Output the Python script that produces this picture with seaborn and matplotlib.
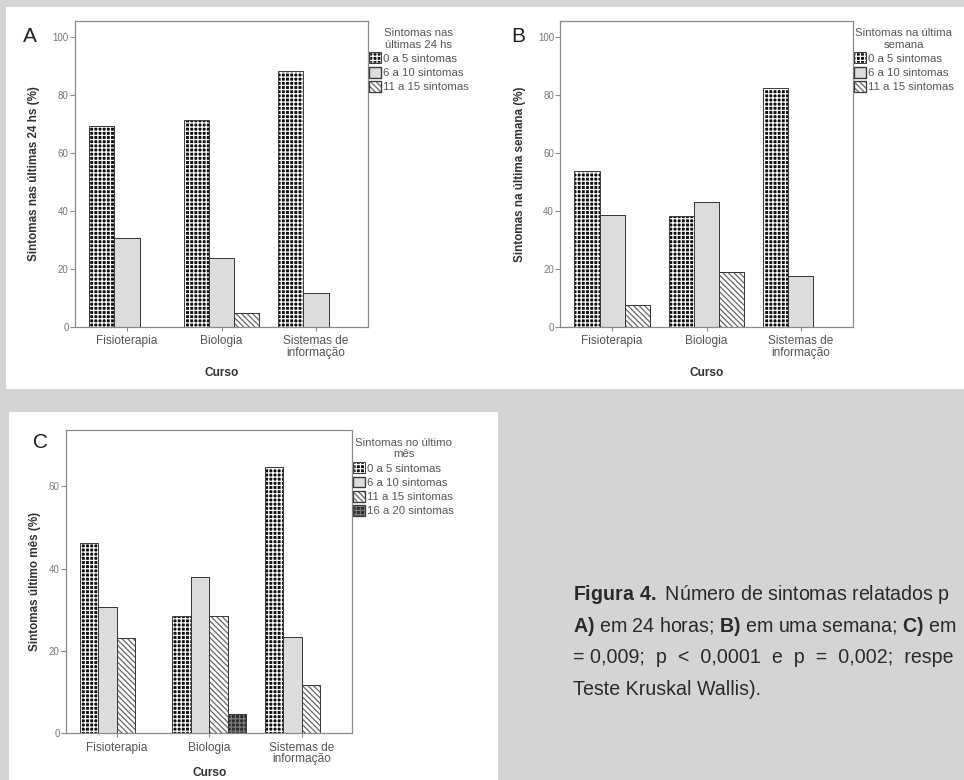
import pandas as pd
import matplotlib
matplotlib.use("Agg")
import matplotlib.pyplot as plt
import seaborn as sns
from matplotlib.patches import Rectangle, Patch

# Stile generale
sns.set_theme(style="white")
plt.rcParams['font.family'] = ['Liberation Sans', 'DejaVu Sans']
plt.rcParams['hatch.linewidth'] = 0.9
plt.rcParams['mathtext.fontset'] = 'custom'
plt.rcParams['mathtext.rm'] = 'Liberation Sans'
plt.rcParams['mathtext.bf'] = 'Liberation Sans:bold'

# Dati (percentuali)
cursos = ['Fisioterapia', 'Biologia', 'Sistemas de\ninformação']
grupos = ['0 a 5 sintomas', '6 a 10 sintomas', '11 a 15 sintomas', '16 a 20 sintomas']

a_0a5 = [69.2, 71.4, 88.2]
a_6a10 = [30.8, 23.8, 11.8]
a_11a15 = [0.0, 4.8, 0.0]

b_0a5 = [53.8, 38.1, 82.4]
b_6a10 = [38.5, 42.9, 17.6]
b_11a15 = [7.7, 19.0, 0.0]

c_0a5 = [46.2, 28.6, 64.7]
c_6a10 = [30.8, 38.1, 23.5]
c_11a15 = [23.1, 28.6, 11.8]
c_16a20 = [0.0, 4.8, 0.0]

SFONDO = '#d3d4d6'

# aspetto di ogni gruppo: (faccia, colore tratteggio/bordo, tratteggio)
stili = {
    '0 a 5 sintomas': ('#0d0d0d', 'white', '++++'),
    '6 a 10 sintomas': ('#dcdcdc', '#444444', None),
    '11 a 15 sintomas': ('white', '#666666', '\\\\\\\\\\\\'),
    '16 a 20 sintomas': ('#2a2a2a', '#7a7a7a', '++++'),
}
CON_CONTORNO = ('white', '#7a7a7a')


def tabella(serie):
    righe = []
    for gruppo, valori in serie:
        for curso, v in zip(cursos, valori):
            righe.append({'Curso': curso, 'Grupo': gruppo, 'pct': v})
    return pd.DataFrame(righe)


def pannello(ax, serie, titolo_legenda, ylabel, ymax, yticks, ylab_x, xlab_y, leg_y):
    df = tabella(serie)
    ordine = [g for g, _ in serie]
    sns.barplot(data=df, x='Curso', y='pct', hue='Grupo', hue_order=ordine,
                order=cursos, ax=ax, width=0.8, saturation=1,
                palette=['white'] * len(ordine), edgecolor='#444444',
                linewidth=0.7, legend=False, errorbar=None)

    maniglie = []
    for gruppo, cont in zip(ordine, ax.containers):
        fc, ec, hatch = stili[gruppo]
        for p in cont.patches:
            p.set_facecolor(fc)
            p.set_edgecolor(ec)
            p.set_hatch(hatch)
            # contorno scuro sopra al motivo
            ax.add_patch(Rectangle(p.get_xy(), p.get_width(), p.get_height(),
                                   fill=False, ec='#3a3a3a', lw=0.7, zorder=3))
        maniglie.append((Patch(fc=fc, ec=ec, hatch=hatch),
                         Patch(fill=False, ec='#3a3a3a', lw=0.7)))

    ax.set_xlim(-0.55, 2.55)
    ax.set_ylim(0, ymax)
    ax.set_yticks(yticks)
    ax.set_facecolor('white')
    for s in ax.spines.values():
        s.set_color('#8a8a8a')
        s.set_linewidth(0.9)
    ax.tick_params(axis='y', left=True, direction='out', length=3.5, width=0.8,
                   color='#8a8a8a', labelsize=7, labelcolor='#777777', pad=1)
    ax.tick_params(axis='x', bottom=True, direction='out', length=3, width=0.8,
                   color='#8a8a8a', labelsize=8.6, labelcolor='#555555', pad=3)
    for t in ax.get_xticklabels():
        t.set_linespacing(0.95)

    ax.set_ylabel(ylabel, fontsize=8.4, fontweight='bold', color='#333333')
    ax.set_xlabel('Curso', fontsize=8.6, fontweight='bold', color='#333333')
    ax.yaxis.set_label_coords(ylab_x, 0.5)
    ax.xaxis.set_label_coords(0.5, xlab_y)

    leg = ax.legend(maniglie, ordine, title=titolo_legenda, loc='upper left',
                    bbox_to_anchor=(1.004, leg_y), frameon=False, fontsize=8.2,
                    title_fontsize=8.2, handlelength=1.05, handleheight=1.1,
                    handletextpad=0.15, labelspacing=0.25, borderpad=0,
                    borderaxespad=0)
    leg.get_title().set_multialignment('center')
    leg.get_title().set_color('#555555')
    for t in leg.get_texts():
        t.set_color('#555555')


fig = plt.figure(figsize=(9.64, 7.8), dpi=100, facecolor=SFONDO)

# riquadri bianchi dei pannelli
W, H = 964, 780
fig.patches.append(Rectangle((6 / W, 1 - 388.7 / H), (W - 6) / W, (388.7 - 7) / H,
                             transform=fig.transFigure, fc='white', ec='none', zorder=-1))
fig.patches.append(Rectangle((9 / W, 0), (498 - 9) / W, 1 - 411.7 / H,
                             transform=fig.transFigure, fc='white', ec='none', zorder=-1))

ax_a = fig.add_axes([75 / W, 1 - 327 / H, 293 / W, 306 / H])
ax_b = fig.add_axes([560.3 / W, 1 - 327 / H, 292.4 / W, 306 / H])
ax_c = fig.add_axes([66 / W, 1 - 733.3 / H, 286.3 / W, 303.3 / H])

pannello(ax_a, [(grupos[0], a_0a5), (grupos[1], a_6a10), (grupos[2], a_11a15)],
         'Sintomas nas\núltimas 24 hs', 'Sintomas nas últimas 24 hs (%)',
         105.4, [0, 20, 40, 60, 80, 100], -0.118, -0.13, 0.977)
pannello(ax_b, [(grupos[0], b_0a5), (grupos[1], b_6a10), (grupos[2], b_11a15)],
         'Sintomas na última\nsemana', 'Sintomas na última semana (%)',
         105.4, [0, 20, 40, 60, 80, 100], -0.118, -0.13, 0.977)
pannello(ax_c, [(grupos[0], c_0a5), (grupos[1], c_6a10), (grupos[2], c_11a15),
                (grupos[3], c_16a20)],
         'Sintomas no último\nmês', 'Sintomas último mês (%)',
         73.7, [0, 20, 40, 60], -0.088, -0.112, 0.974)

# lettere dei pannelli
for testo, x, y in [('A', 23, 42), ('B', 511, 42), ('C', 33, 448)]:
    fig.text(x / W, 1 - y / H, testo, fontsize=15, color='#222222', va='baseline')

# didascalia (tagliata dal bordo come nell'originale)
righe = [
    r'$\mathbf{Figura\ 4.}$ Número de sintomas relatados p',
    r'$\mathbf{A)}$ em 24 horas; $\mathbf{B)}$ em uma semana; $\mathbf{C)}$ em',
    '= 0,009;  p  <  0,0001  e  p  =  0,002;  respe',
    'Teste Kruskal Wallis).',
]
for i, riga in enumerate(righe):
    fig.text(573 / W, 1 - (600 + 31.7 * i) / H, riga, fontsize=14.1,
             color='#2a2a2a', va='baseline')

fig.savefig('out.png', dpi=100, facecolor=SFONDO)
